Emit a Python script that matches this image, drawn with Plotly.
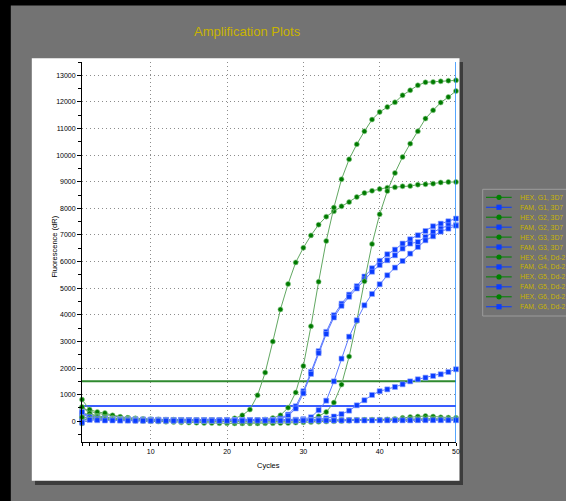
import plotly.graph_objects as go

cycles = list(range(1, 51))

hex_g1 = [520, 380, 300, 250, 200, 160, 130, 110, 90, 80,
          70, 60, 55, 50, 45, 40, 40, 45, 50, 60,
          110, 225, 440, 977, 1830, 2996, 4205, 5160, 5970, 6520,
          6985, 7388, 7690, 7890, 8078, 8235, 8428, 8580, 8660, 8729,
          8779, 8792, 8830, 8840, 8892, 8905, 8930, 8975, 8992, 8995]
fam_g1 = [300, 220, 170, 140, 120, 100, 90, 80, 70, 65,
          60, 55, 50, 50, 45, 45, 40, 40, 40, 40,
          40, 40, 45, 45, 50, 60, 120, 250, 564, 1130,
          1855, 2635, 3360, 3985, 4420, 4760, 5075, 5440, 5750, 6030,
          6275, 6450, 6677, 6838, 6988, 7150, 7327, 7426, 7515, 7616]
hex_g2 = [815, 440, 350, 310, 225, 170, 130, 100, 80, 60,
          50, 40, 30, 25, 20, 15, 10, 5, 0, -10,
          -5, 5, 20, 40, 70, 120, 225, 513, 1083, 2079,
          3575, 5242, 6775, 8030, 9093, 9844, 10408, 10896, 11336, 11622,
          11810, 11986, 12249, 12437, 12625, 12737, 12750, 12775, 12800, 12810]
fam_g2 = [150, 120, 100, 90, 80, 70, 60, 55, 50, 50,
          45, 45, 40, 40, 40, 35, 35, 35, 35, 35,
          35, 35, 40, 40, 45, 55, 100, 200, 480, 1050,
          1780, 2560, 3280, 3900, 4340, 4680, 4990, 5330, 5620, 5870,
          6050, 6237, 6488, 6677, 6738, 6925, 7113, 7240, 7364, 7370]
hex_g3 = [300, 250, 200, 160, 130, 100, 80, 70, 60, 50,
          45, 40, 40, 35, 30, 30, 25, 25, 20, 20,
          20, 20, 25, 25, 30, 30, 35, 40, 45, 60,
          90, 188, 350, 702, 1378, 2436, 3769, 5260, 6658, 7778,
          8650, 9330, 9931, 10433, 10896, 11373, 11685, 11975, 12185, 12410]
fam_g3 = [250, 160, 120, 100, 85, 75, 65, 60, 55, 50,
          50, 45, 45, 40, 40, 40, 40, 35, 35, 35,
          35, 35, 35, 40, 40, 40, 45, 50, 60, 80,
          150, 420, 775, 1500, 2354, 3180, 3795, 4358, 4785, 5148,
          5486, 5775, 6024, 6300, 6550, 6800, 6951, 7127, 7240, 7352]
hex_g4 = [540, 300, 180, 120, 80, 50, 30, 20, 10, 0,
          -10, -20, -30, -40, -50, -55, -60, -65, -70, -75,
          -80, -80, -80, -80, -75, -70, -65, -60, -50, -40,
          -30, -20, -10, 0, 10, 20, 30, 40, 50, 55,
          60, 90, 130, 160, 180, 200, 180, 150, 140, 130]
fam_g4 = [50, 90, 80, 70, 60, 55, 50, 45, 45, 40,
          40, 40, 35, 35, 35, 30, 30, 30, 30, 30,
          30, 30, 30, 35, 35, 35, 40, 40, 45, 50,
          60, 80, 110, 180, 270, 400, 600, 790, 990, 1130,
          1200, 1290, 1390, 1500, 1578, 1640, 1703, 1766, 1853, 1954]
hex_g5 = [-80, 200, 150, 120, 100, 90, 80, 70, 65, 60,
          60, 55, 55, 50, 50, 50, 45, 45, 45, 40,
          40, 35, 40, 45, 40, 35, 40, 45, 40, 35,
          40, 45, 40, 35, 40, 45, 50, 45, 40, 45,
          50, 55, 50, 45, 50, 55, 60, 55, 50, 55]
fam_g5 = [350, 150, 100, 80, 70, 60, 55, 50, 50, 45,
          45, 45, 40, 40, 40, 40, 40, 40, 40, 40,
          40, 40, 40, 40, 40, 40, 40, 40, 45, 45,
          45, 45, 45, 50, 50, 50, 50, 50, 50, 50,
          55, 55, 55, 55, 55, 60, 60, 60, 60, 60]
hex_g6 = [150, 100, 80, 70, 60, 50, 45, 40, 35, 30,
          30, 25, 20, 20, 15, 10, 5, 0, -10, -20,
          -30, -40, -40, -30, -20, -10, 0, 10, 20, 25,
          30, 35, 40, 40, 45, 45, 50, 55, 60, 60,
          65, 70, 80, 90, 100, 110, 100, 90, 80, 90]
fam_g6 = [-50, 50, 40, 30, 30, 25, 25, 20, 20, 20,
          20, 20, 20, 20, 20, 20, 20, 20, 20, 20,
          20, 20, 25, 25, 25, 25, 25, 25, 25, 30,
          30, 30, 30, 30, 30, 30, 30, 30, 30, 35,
          35, 35, 35, 35, 40, 40, 40, 40, 40, 40]

series_names = ["HEX, G1, 3D7", "FAM, G1, 3D7", "HEX, G2, 3D7", "FAM, G2, 3D7",
                "HEX, G3, 3D7", "FAM, G3, 3D7", "HEX, G4, Dd-2", "FAM, G4, Dd-2",
                "HEX, G5, Dd-2", "FAM, G5, Dd-2", "HEX, G6, Dd-2", "FAM, G6, Dd-2"]
series_values = [hex_g1, fam_g1, hex_g2, fam_g2, hex_g3, fam_g3,
                 hex_g4, fam_g4, hex_g5, fam_g5, hex_g6, fam_g6]

hex_threshold = 1500
fam_threshold = 570
x_ticks = [10, 20, 30, 40, 50]

GREEN = "#007a00"
GREEN_LINE = "#62a862"
BLUE = "#0a3cff"
BLUE_LINE = "#5a78ff"
FONT = "Liberation Sans, Arial, sans-serif"

# plot-area geometry (pixels)
W, H = 566, 501
L, R, T, B = 82, 456, 62, 442


def px(xp):
    return (xp - L) / (R - L)


def py(yp):
    return (B - yp) / (B - T)


fig = go.Figure()

# threshold lines
fig.add_trace(go.Scatter(x=[cycles[0], cycles[-1]], y=[hex_threshold, hex_threshold],
                         mode="lines", line=dict(color="#2f8a2f", width=2), hoverinfo="skip"))
fig.add_trace(go.Scatter(x=[cycles[0], cycles[-1]], y=[fam_threshold, fam_threshold],
                         mode="lines", line=dict(color="#3a5cff", width=2), hoverinfo="skip"))

for name, vals in zip(series_names, series_values):
    is_hex = name.startswith("HEX")
    fig.add_trace(go.Scatter(
        x=cycles, y=vals, name=name, mode="lines+markers",
        line=dict(color=GREEN_LINE if is_hex else BLUE_LINE, width=1),
        marker=dict(symbol="circle" if is_hex else "square",
                    size=5,
                    color=GREEN if is_hex else BLUE,
                    line=dict(color="#8fcf8f" if is_hex else "#8fa5ff", width=0.6)),
        cliponaxis=False))

shapes = []
# black frame edges
shapes.append(dict(type="rect", xref="paper", yref="paper", x0=px(0), x1=px(W), y0=py(0), y1=py(5.4),
                   fillcolor="black", line=dict(width=0), layer="below"))
shapes.append(dict(type="rect", xref="paper", yref="paper", x0=px(0), x1=px(10.8), y0=py(0), y1=py(H),
                   fillcolor="black", line=dict(width=0), layer="below"))
# panel shadow and white panel
shapes.append(dict(type="rect", xref="paper", yref="paper", x0=px(35), x1=px(463), y0=py(62), y1=py(485),
                   fillcolor="#3c3c3c", line=dict(width=0), layer="below"))
shapes.append(dict(type="rect", xref="paper", yref="paper", x0=px(31.8), x1=px(459.5), y0=py(58.3), y1=py(480.8),
                   fillcolor="white", line=dict(width=0), layer="below"))
# cursor line at last cycle
shapes.append(dict(type="line", xref="x", yref="paper", x0=cycles[-1], x1=cycles[-1], y0=0, y1=1,
                   line=dict(color="#1e88ff", width=1.5)))
# legend box
shapes.append(dict(type="rect", xref="paper", yref="paper", x0=px(482.7), x1=px(575), y0=py(189.3), y1=py(316),
                   fillcolor="rgba(0,0,0,0)", line=dict(color="#9c9c9c", width=1)))

annotations = []
row0, row_step = 197.3, 9.95
for i, name in enumerate(series_names):
    is_hex = name.startswith("HEX")
    yc = row0 + i * row_step
    col = "#008000" if is_hex else "#0a3cff"
    shapes.append(dict(type="line", xref="paper", yref="paper", x0=px(486), x1=px(511.7), y0=py(yc), y1=py(yc),
                       line=dict(color=col, width=1)))
    r = 2.6
    shapes.append(dict(type="circle" if is_hex else "rect", xref="paper", yref="paper",
                       x0=px(499 - r), x1=px(499 + r), y0=py(yc - r), y1=py(yc + r),
                       fillcolor=col, line=dict(width=0)))
    annotations.append(dict(text=name, xref="paper", yref="paper", x=px(518), y=py(yc),
                            xanchor="left", yanchor="middle", showarrow=False,
                            font=dict(size=6.8, color="#c8b400", family=FONT)))

annotations.append(dict(text="Amplification Plots", xref="paper", yref="paper", x=px(247), y=py(32),
                        xanchor="center", yanchor="middle", showarrow=False,
                        font=dict(size=13, color="#c9b300", family=FONT)))
annotations.append(dict(text="Fluorescence (dR)", xref="paper", yref="paper", x=px(54.5), y=py(247),
                        xanchor="center", yanchor="middle", textangle=-90, showarrow=False,
                        font=dict(size=7.5, color="black", family=FONT)))
annotations.append(dict(text="Cycles", xref="paper", yref="paper", x=px(268), y=py(465),
                        xanchor="center", yanchor="middle", showarrow=False,
                        font=dict(size=7.5, color="black", family=FONT)))

fig.update_layout(
    width=W, height=H,
    margin=dict(l=L, r=W - R, t=T, b=H - B, pad=0),
    paper_bgcolor="#737373", plot_bgcolor="white",
    showlegend=False,
    font=dict(family=FONT, size=7, color="black"),
    shapes=shapes, annotations=annotations,
    xaxis=dict(range=[cycles[0], cycles[-1]], tickmode="array", tickvals=x_ticks,
               showgrid=True, gridcolor="#8c8c8c", griddash="1px,3px", gridwidth=1,
               showline=True, linecolor="black", linewidth=1, zeroline=False,
               ticks="outside", ticklen=3, tickcolor="black", tickfont=dict(size=7),
               minor=dict(dtick=1, tick0=1, ticklen=3, ticks="outside", tickcolor="black", showgrid=False)),
    yaxis=dict(range=[-778, 13500], tick0=0, dtick=1000, tickformat="d",
               showgrid=True, gridcolor="#8c8c8c", griddash="1px,3px", gridwidth=1,
               showline=True, linecolor="black", linewidth=1, zeroline=False,
               ticks="outside", ticklen=4, tickcolor="black", tickfont=dict(size=7),
               minor=dict(dtick=500, ticklen=3, ticks="outside", tickcolor="black", showgrid=False)),
)

fig.write_html("out.html")
